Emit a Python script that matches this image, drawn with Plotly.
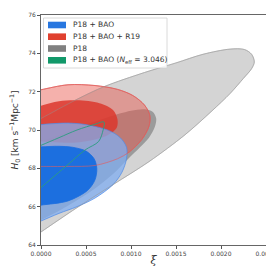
import plotly.graph_objects as go

# ---- contour boundaries (xi, H0); the first/last two points
#      continue each edge past the xi = 0 prior bound so the clip happens at the axis ----
# P18 (grey) 2-sigma and 1-sigma
p18_2s_xi = [-0.0003, -0.00015, 0.0, 0.0004, 0.0008, 0.0012, 0.0016, 0.0019, 0.0021, 0.00225, 0.00234,
             0.00237, 0.00234, 0.00226, 0.0021, 0.0018, 0.0015, 0.00115, 0.0007, 0.0004, 0.0,
             -0.00015, -0.0003]
p18_2s_h0 = [63.72, 64.2, 64.68, 65.95, 67.15, 68.35, 69.75, 71.0, 71.9, 72.7, 73.2,
             73.55, 73.95, 74.2, 74.22, 73.95, 73.5, 73.0, 72.26, 71.6, 70.6,
             70.22, 69.85]
p18_1s_xi = [-0.0003, -0.00015, 0.0, 0.0003, 0.0006, 0.0008, 0.00097, 0.0011, 0.0012, 0.00126,
             0.00128, 0.00124, 0.00115, 0.001, 0.0007, 0.0004, 0.0, -0.00015, -0.0003]
p18_1s_h0 = [64.6, 64.95, 65.3, 66.05, 66.95, 67.7, 68.5, 69.1, 69.6, 70.1,
             70.6, 70.95, 71.08, 71.0, 70.6, 70.1, 69.4, 69.14, 68.88]

# P18 + BAO + R19 (red)
r19_2s_xi = [-0.0003, -0.00015, 0.0, 0.0003, 0.0006, 0.00085, 0.00098, 0.00112, 0.0012, 0.00121,
             0.00115, 0.00102, 0.00085, 0.0006, 0.0003, 0.0, -0.00015, -0.0003]
r19_2s_h0 = [68.1, 68.1, 68.1, 68.1, 68.15, 68.5, 68.85, 69.5, 70.2, 70.75,
             71.3, 71.8, 72.12, 72.32, 72.36, 72.1, 71.95, 71.8]
r19_1s_xi = [-0.0003, -0.00015, 0.0, 0.0002, 0.0004, 0.0006, 0.00075, 0.00084, 0.00085, 0.0008,
             0.00065, 0.0004, 0.0002, 0.0, -0.00015, -0.0003]
r19_1s_h0 = [69.5, 69.45, 69.4, 69.35, 69.35, 69.5, 69.75, 70.1, 70.55, 71.05,
             71.4, 71.55, 71.5, 71.27, 71.1, 70.9]

# P18 + BAO (blue)
bao_2s_xi = [-0.0003, -0.00015, 0.0, 0.0002, 0.0004, 0.0006, 0.0008, 0.0009, 0.00095, 0.00095,
             0.00088, 0.00075, 0.0005, 0.0003, 0.0001, 0.0, -0.00015, -0.0003]
bao_2s_h0 = [64.65, 64.95, 65.25, 65.65, 66.0, 66.45, 67.15, 67.8, 68.5, 69.1,
             69.6, 69.98, 70.28, 70.36, 70.32, 70.28, 70.2, 70.1]
bao_1s_xi = [-0.0003, -0.00015, 0.0, 0.0003, 0.00052, 0.0006, 0.00062, 0.00059, 0.0005, 0.00035,
             0.0002, 0.0, -0.00015, -0.0003]
bao_1s_h0 = [65.88, 65.98, 66.08, 66.3, 66.86, 67.4, 68.0, 68.5, 68.9, 69.1,
             69.15, 69.12, 69.08, 69.03]

# P18 + BAO (Neff = 3.046) (green line)
neff_xi = [-0.0003, -0.00015, 0.0, 0.0001, 0.0003, 0.00049, 0.00064, 0.00069, 0.0007, 0.0006,
           0.0004, 0.0002, 0.0, -0.00015, -0.0003]
neff_h0 = [65.8, 66.4, 67.0, 67.4, 68.2, 68.96, 69.4, 70.0, 70.42, 70.3,
           70.0, 69.6, 69.2, 68.9, 68.6]

legend_labels = ["P18 + BAO", "P18 + BAO + R19", "P18",
                 "P18 + BAO (<i>N</i><sub>eff</sub> = 3.046)"]
legend_colors = ["#2877e0", "#e0402f", "#808080", "#12996a"]

x_ticks = [0.0, 0.0005, 0.001, 0.0015, 0.002, 0.0025]
y_ticks = [64, 66, 68, 70, 72, 74, 76]

SMOOTH = 0.9
fig = go.Figure()


def filled(xs, ys, fill, line, width=0.8):
    fig.add_trace(go.Scatter(x=xs, y=ys, mode="lines", fill="toself", fillcolor=fill,
                             line=dict(color=line, width=width, shape="spline", smoothing=SMOOTH),
                             hoverinfo="skip", showlegend=False))


def outline(xs, ys, color, width=0.8):
    fig.add_trace(go.Scatter(x=xs, y=ys, mode="lines",
                             line=dict(color=color, width=width, shape="spline", smoothing=SMOOTH),
                             hoverinfo="skip", showlegend=False))


filled(p18_2s_xi, p18_2s_h0, "#d4d4d4", "#bdbdbd")
filled(p18_1s_xi, p18_1s_h0, "#9b9b9b", "rgba(0,0,0,0)", 0)
filled(r19_2s_xi, r19_2s_h0, "rgba(232,82,72,0.45)", "rgba(225,90,85,0.9)")
filled(r19_1s_xi, r19_1s_h0, "rgba(220,55,45,0.85)", "rgba(0,0,0,0)", 0)
filled(bao_2s_xi, bao_2s_h0, "rgba(128,174,240,0.75)", "rgba(80,140,232,0.9)")
filled(bao_1s_xi, bao_1s_h0, "#1c6fdf", "#1c6fdf")
outline(r19_2s_xi, r19_2s_h0, "rgba(225,95,95,0.85)", 0.7)
outline(p18_2s_xi, p18_2s_h0, "rgba(150,150,150,0.8)", 0.6)
outline(neff_xi, neff_h0, "#2a9d80", 0.9)

# ---- manual legend (paper coordinates) ----
L, R, T, B = 33, 16, 7, 33
W, H = 274, 270
pw, ph = W - L - R, H - T - B


def px(x):
    return (x - L) / pw


def py(y):
    return (H - B - y) / ph


fig.add_shape(type="rect", xref="paper", yref="paper", x0=px(35.5), x1=px(159), y0=py(60), y1=py(10),
              line=dict(color="#d0d0d0", width=0.8), fillcolor="rgba(255,255,255,0.85)", layer="above")
centers = [17, 28.7, 40.5, 52.3]
for lab, col, cy in zip(legend_labels, legend_colors, centers):
    fig.add_shape(type="rect", xref="paper", yref="paper", x0=px(40), x1=px(58),
                  y0=py(cy + 3.3), y1=py(cy - 3.3), line=dict(width=0), fillcolor=col, layer="above")
    fig.add_annotation(xref="paper", yref="paper", x=px(63), y=py(cy), text=lab, showarrow=False,
                       xanchor="left", yanchor="middle",
                       font=dict(family="DejaVu Sans", size=7.5, color="#333333"))

axis_common = dict(showgrid=False, zeroline=False, showline=True, mirror=True, automargin=False,
                   linecolor="#666666", linewidth=1, ticks="outside", ticklen=3,
                   tickcolor="#555555", tickwidth=0.8,
                   tickfont=dict(family="DejaVu Sans", size=6, color="#444444"))

fig.update_xaxes(range=[0, 0.0025], tickvals=x_ticks, ticktext=[f"{v:.4f}" for v in x_ticks],
                 title=dict(text="<i>ξ</i>", font=dict(family="DejaVu Serif", size=11, color="#333333"),
                            standoff=0),
                 **axis_common)
fig.update_yaxes(range=[64, 76], tickvals=y_ticks, ticktext=[str(v) for v in y_ticks],
                 title=dict(text="<i>H</i><sub>0</sub> [km s<sup>−1</sup>Mpc<sup>−1</sup>]",
                            font=dict(family="DejaVu Sans", size=9, color="#333333"), standoff=10),
                 **axis_common)

fig.update_layout(width=W, height=H, margin=dict(l=L, r=R, t=T, b=B),
                  plot_bgcolor="white", paper_bgcolor="white", showlegend=False)

fig.write_html("out.html")
